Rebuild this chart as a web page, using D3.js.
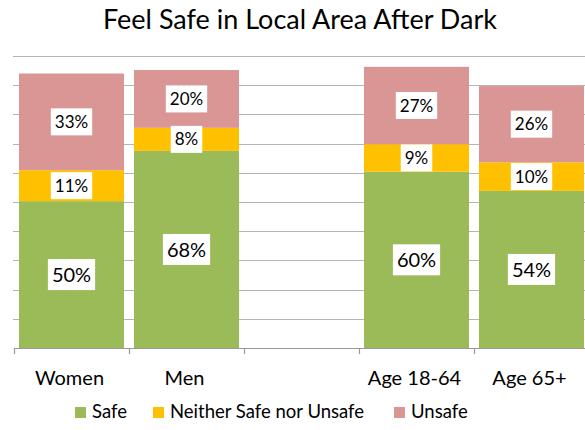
<!DOCTYPE html>
<html><head><meta charset="utf-8">
<script src="https://cdn.jsdelivr.net/npm/d3@7"></script>
<style>body{margin:0;background:#fff}svg{display:block}</style>
</head><body>
<script>
const categories = ["Women", "Men", "", "Age 18-64", "Age 65+"];
const safe = [50.3, 67.5, null, 60.4, 53.8];
const neither = [10.6, 7.9, null, 9.4, 9.8];
const unsafe = [33.1, 19.8, null, 26.5, 26.1];
const seriesNames = ["Safe", "Neither Safe nor Unsafe", "Unsafe"];
const colors = ["#9BBB59", "#FFC000", "#D99694"];
const yTicks = [0, 10, 20, 30, 40, 50, 60, 70, 80, 90, 100];

const W = 585, H = 430;
const font = "Lato, 'Open Sans', sans-serif";
const svg = d3.select("body").append("svg").attr("width", W).attr("height", H);

const x = d3.scaleBand().domain(categories.map((c, i) => i)).range([14, 589]).paddingInner(0.087).paddingOuter(0.0435);
const y = d3.scaleLinear().domain([0, 100]).range([348, 56]);

// gridlines
svg.append("g").selectAll("line").data(yTicks.slice(1)).join("line")
  .attr("x1", 13).attr("x2", W).attr("y1", d => Math.round(y(d)) + 0.5).attr("y2", d => Math.round(y(d)) + 0.5)
  .attr("stroke", "#b4b4b4").attr("stroke-width", 1.2);

const series = [safe, neither, unsafe];
const stackData = categories.map((c, i) => ({ i, vals: series.map(s => s[i]) }));

const gBars = svg.append("g");
stackData.forEach(d => {
  if (d.vals[0] == null) return;
  let base = 0;
  d.vals.forEach((v, k) => {
    gBars.append("rect")
      .attr("x", x(d.i)).attr("width", x.bandwidth())
      .attr("y", y(base + v)).attr("height", y(base) - y(base + v))
      .attr("fill", colors[k]);
    base += v;
  });
});

// labels
const gLab = svg.append("g");
stackData.forEach(d => {
  if (d.vals[0] == null) return;
  let base = 0;
  d.vals.forEach((v, k) => {
    const cy = (y(base) + y(base + v)) / 2;
    const cx = x(d.i) + x.bandwidth() / 2;
    const fs = k === 0 ? 20 : 17;
    const g = gLab.append("g");
    const t = g.append("text").attr("x", cx).attr("y", cy).attr("dy", "0.36em")
      .attr("text-anchor", "middle").attr("font-family", font).attr("font-size", fs)
      .attr("fill", "#000").text(Math.round(v) + "%");
    const bb = t.node().getBBox();
    const padX = 4, h = k === 0 ? 31 : 27;
    g.insert("rect", "text").attr("x", bb.x - padX).attr("width", bb.width + 2 * padX)
      .attr("y", cy - h / 2).attr("height", h).attr("fill", "#fff");
    base += v;
  });
});

// x axis
const ax = svg.append("g");
ax.append("line").attr("x1", 14).attr("x2", W).attr("y1", 348.5).attr("y2", 348.5).attr("stroke", "#999").attr("stroke-width", 1.2);
const step = x.step();
const bounds = d3.range(categories.length + 1).map(i => x(0) - x.step() * x.paddingInner() / 2 + i * step);
ax.selectAll("line.tk").data(bounds).join("line").attr("class", "tk")
  .attr("x1", d => Math.round(d) + 0.5).attr("x2", d => Math.round(d) + 0.5).attr("y1", 348).attr("y2", 354)
  .attr("stroke", "#999").attr("stroke-width", 1.2);
ax.selectAll("text").data(categories.map((c, i) => ({ c, i }))).join("text")
  .attr("x", d => x(d.i) + x.bandwidth() / 2 - 2).attr("y", 385)
  .attr("text-anchor", "middle").attr("font-family", font).attr("font-size", 20).attr("fill", "#000")
  .text(d => d.c);

// title
svg.append("text").attr("x", 300).attr("y", 29).attr("text-anchor", "middle")
  .attr("font-family", font).attr("font-size", 27).attr("fill", "#000")
  .text("Feel Safe in Local Area After Dark");

// legend
const legX = [75, 153, 394];
const lg = svg.append("g");
seriesNames.forEach((n, k) => {
  lg.append("rect").attr("x", legX[k]).attr("y", 407).attr("width", 11).attr("height", 11).attr("fill", colors[k]);
  lg.append("text").attr("x", legX[k] + 17).attr("y", 418).attr("font-family", font).attr("font-size", 18.5)
    .attr("fill", "#000").text(n);
});
</script>
</body></html>
